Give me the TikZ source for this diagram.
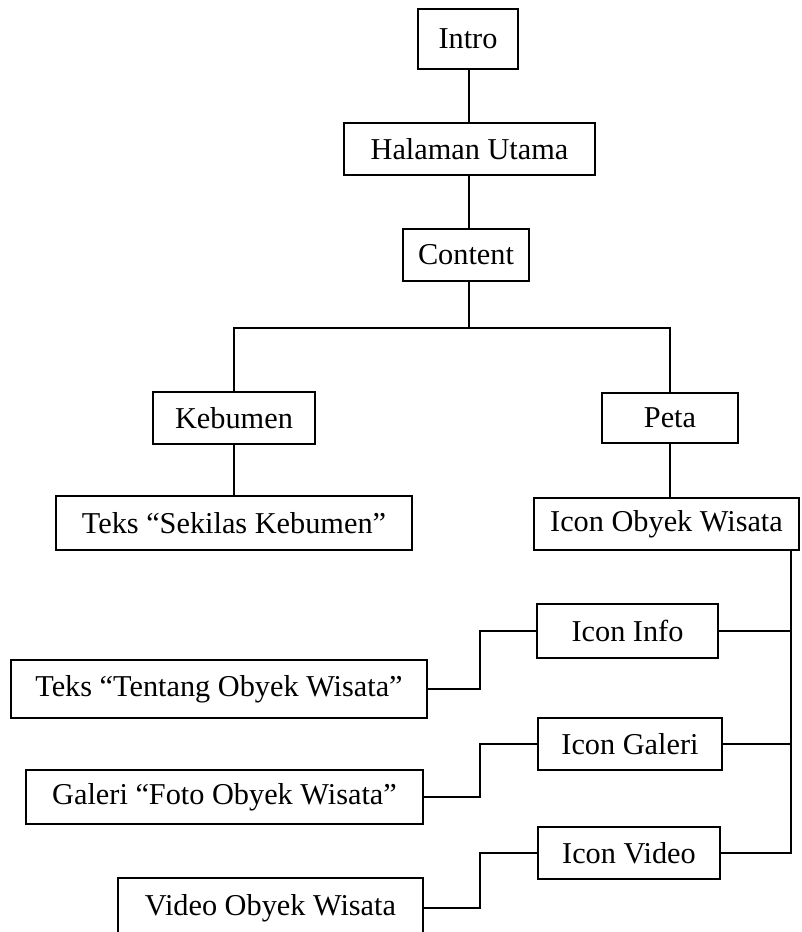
\documentclass[tikz,border=0pt]{standalone}
\usepackage{fontspec}
\setmainfont{Liberation Serif}
\begin{document}
\begin{tikzpicture}[x=1pt,y=-1pt,
  box/.style={draw, line width=1.8pt, inner sep=0pt, font=\fontsize{30.3}{36}\selectfont},
  link/.style={line width=1.8pt}]
\useasboundingbox (0,0) rectangle (801,932);

% main column
\node[box, minimum width=100pt, minimum height=60pt] (intro)   at (468,39)     {Intro};
\node[box, minimum width=251pt, minimum height=52pt] (hal)     at (469.5,149)  {Halaman Utama};
\node[box, minimum width=126pt, minimum height=52pt] (content) at (466,255)    {Content};

% two branches
\node[box, minimum width=162pt, minimum height=52pt] (kebumen) at (234,418)    {Kebumen};
\node[box, minimum width=356pt, minimum height=54pt] (sekilas) at (234,523)    {Teks “Sekilas Kebumen”};
\node[box, minimum width=136pt, minimum height=50pt] (peta)    at (670,418)    {Peta};
\node[box, minimum width=265pt, minimum height=52pt] (iobyek)  at (666.5,524)  {Icon Obyek Wisata};

% icon group
\node[box, minimum width=181pt, minimum height=54pt] (iinfo)   at (627.5,631)  {Icon Info};
\node[box, minimum width=416pt, minimum height=58pt] (tentang) at (219,689)    {Teks “Tentang Obyek Wisata”};
\node[box, minimum width=184pt, minimum height=52pt] (igaleri) at (630,744)    {Icon Galeri};
\node[box, minimum width=397pt, minimum height=54pt] (foto)    at (224.5,797)  {Galeri “Foto Obyek Wisata”};
\node[box, minimum width=182pt, minimum height=52pt] (ivideo)  at (629,853)    {Icon Video};
\node[box, minimum width=305pt, minimum height=60pt] (vvideo)  at (270.5,908)  {Video Obyek Wisata};

% helper points for the trunk and bus lines
\coordinate (tk) at (469,0);
\coordinate (br) at (469,328);
\coordinate (rb) at (791,0);
\coordinate (mx) at (480,0);

% connectors
\draw[link] (tk |- intro.south) -- (tk |- hal.north);
\draw[link] (tk |- hal.south) -- (tk |- content.north);
\draw[link] (tk |- content.south) -- (br);
\draw[link] (kebumen.north) |- (br) -| (peta.north);
\draw[link] (kebumen.south) -- (sekilas.north);
\draw[link] (peta.south) -- (peta.south |- iobyek.north);

\draw[link] (iobyek.south -| rb) -- (ivideo.east -| rb) -- (ivideo.east);
\draw[link] (iinfo.east) -- (iinfo.east -| rb);
\draw[link] (igaleri.east) -- (igaleri.east -| rb);

\draw[link] (tentang.east) -- (tentang.east -| mx) |- (iinfo.west);
\draw[link] (foto.east) -- (foto.east -| mx) |- (igaleri.west);
\draw[link] (vvideo.east) -- (vvideo.east -| mx) |- (ivideo.west);
\end{tikzpicture}
\end{document}
